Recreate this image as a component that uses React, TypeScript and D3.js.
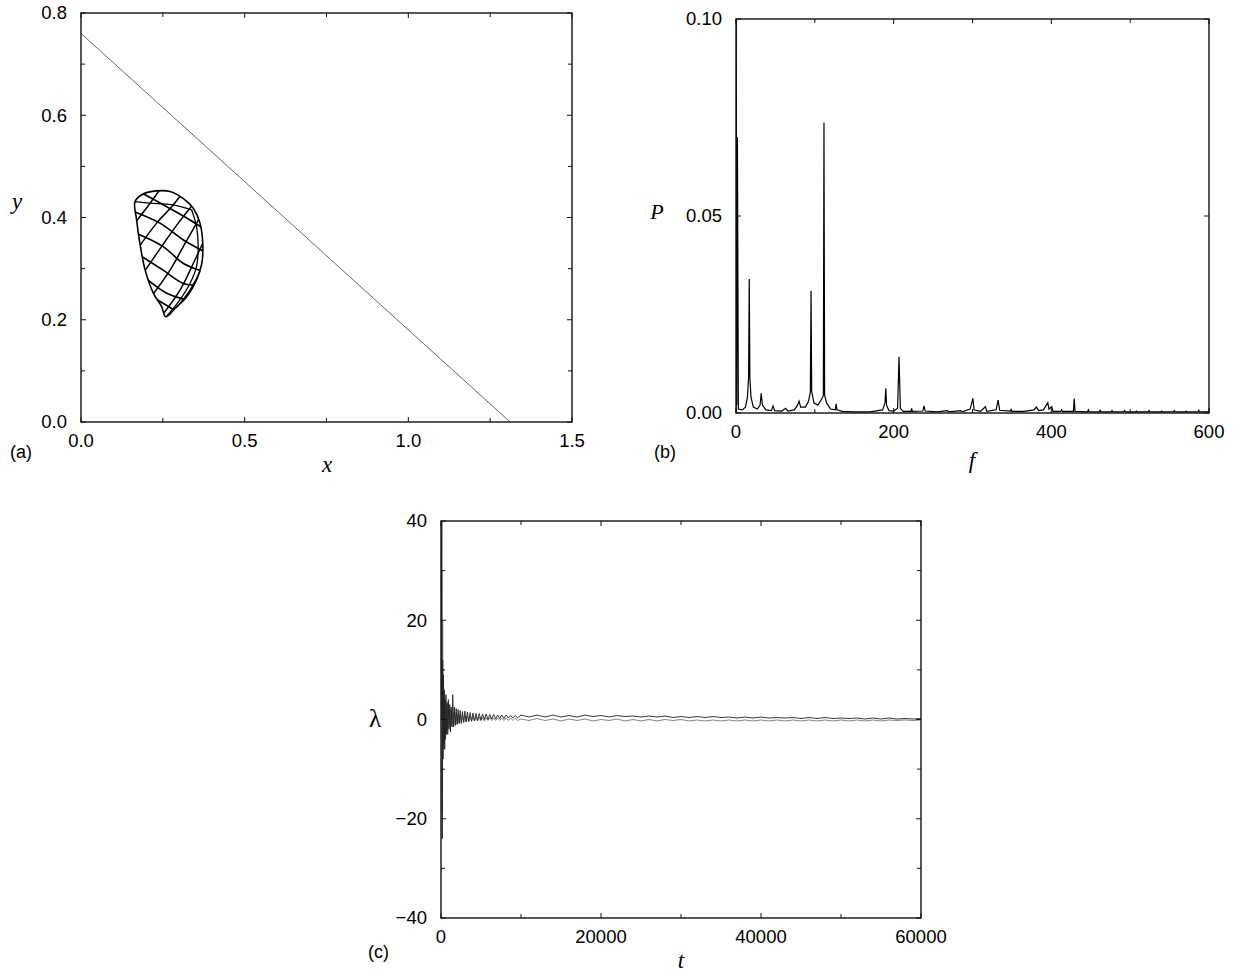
import React from 'react';
import * as d3 from 'd3';

const W = 1239;
const H = 973;

// ---------- Panel (a) data ----------
const aXTicks = [0, 0.5, 1.0, 1.5];
const aXMinor = [0.25, 0.75, 1.25];
const aYTicks = [0, 0.2, 0.4, 0.6, 0.8];
const aYMinor = [0.1, 0.3, 0.5, 0.7];
const aLine: [number, number][] = [[0, 0.76], [1.311, 0]];

const torusOutline: [number, number][] = [
  [0.165, 0.431], [0.190, 0.446], [0.231, 0.452], [0.272, 0.451], [0.313, 0.437],
  [0.343, 0.418], [0.3635, 0.389], [0.372, 0.349], [0.369, 0.310], [0.353, 0.278],
  [0.323, 0.245], [0.287, 0.222], [0.259, 0.206], [0.246, 0.226], [0.221, 0.252],
  [0.196, 0.297], [0.180, 0.349], [0.170, 0.395],
];
const torusInnerRight: [number, number][] = [
  [0.338, 0.415], [0.353, 0.382], [0.358, 0.343], [0.353, 0.304], [0.333, 0.271], [0.302, 0.239], [0.262, 0.207],
];
const torusRim: [number, number][] = [
  [0.165, 0.431], [0.211, 0.428], [0.262, 0.426], [0.3075, 0.421], [0.338, 0.415],
];
const torusGridA: [number, number][][] = [
  [[0.180, 0.450], [0.262, 0.421], [0.333, 0.395], [0.380, 0.376]],
  [[0.160, 0.412], [0.241, 0.389], [0.313, 0.356], [0.380, 0.332]],
  [[0.165, 0.370], [0.251, 0.343], [0.313, 0.310], [0.375, 0.294]],
  [[0.175, 0.328], [0.251, 0.297], [0.313, 0.271], [0.360, 0.268]],
  [[0.195, 0.283], [0.262, 0.252], [0.330, 0.238]],
  [[0.220, 0.244], [0.282, 0.220], [0.300, 0.212]],
];
const torusGridB: [number, number][][] = [
  [[0.160, 0.385], [0.211, 0.428], [0.245, 0.458]],
  [[0.170, 0.336], [0.231, 0.389], [0.277, 0.421], [0.310, 0.448]],
  [[0.186, 0.287], [0.246, 0.343], [0.297, 0.389], [0.345, 0.428]],
  [[0.211, 0.242], [0.272, 0.297], [0.318, 0.3495], [0.365, 0.402]],
  [[0.241, 0.203], [0.3025, 0.258], [0.343, 0.310], [0.378, 0.358]],
  [[0.282, 0.216], [0.333, 0.258], [0.372, 0.305]],
];

// ---------- Panel (b) data ----------
const bXTicks = [0, 200, 400, 600];
const bXMinor = [100, 300, 500];
const bYTicks = [0, 0.05, 0.1];
const spectrum: [number, number][] = [
  [0, 0.0], [0.3, 0.105], [1, 0.002], [1.8, 0.07], [3, 0.001], [8, 0.0008], [12, 0.0015],
  [14.5, 0.004], [16, 0.009], [16.8, 0.034], [17.6, 0.009], [19, 0.004], [22, 0.0015], [27, 0.001],
  [30.5, 0.002], [32, 0.005], [33.5, 0.002], [38, 0.0008], [45, 0.0006], [47, 0.0018], [49, 0.0006],
  [58, 0.0005], [63, 0.0012], [66, 0.0005], [74, 0.0008], [78, 0.002], [80, 0.003], [82, 0.0015],
  [88, 0.0015], [92, 0.003], [94.3, 0.0053], [95.2, 0.031], [96, 0.0055], [99, 0.0025], [104, 0.002],
  [108.5, 0.0035], [110.8, 0.0044], [111.6, 0.0737], [112.4, 0.0045], [115, 0.0025], [120, 0.001],
  [126, 0.0008], [127, 0.0023], [128, 0.0008], [135, 0.0004], [150, 0.0003], [170, 0.0003],
  [186, 0.0008], [189, 0.0025], [190, 0.0063], [191, 0.002], [194, 0.0006], [200, 0.0005],
  [205, 0.0012], [206.8, 0.0143], [208.5, 0.0012], [212, 0.0004], [222, 0.0004], [222.8, 0.0012],
  [223.6, 0.0004], [237, 0.0005], [238.5, 0.0018], [240, 0.0005], [255, 0.0003], [268, 0.0006],
  [270, 0.0003], [285, 0.0006], [287, 0.0003], [297, 0.001], [300.5, 0.0037], [302, 0.0008], [310, 0.0004],
  [316.5, 0.0016], [318, 0.0004], [330, 0.0008], [332.5, 0.0033], [334.5, 0.0007], [348, 0.0005],
  [349, 0.0009], [350, 0.0004], [365, 0.0004], [378, 0.0008], [381, 0.0015], [384, 0.0006],
  [390, 0.0008], [395.5, 0.0026], [397, 0.001], [400.5, 0.0016], [402, 0.0004], [412, 0.0004],
  [413, 0.0008], [414, 0.0004], [428, 0.0004], [429, 0.0037], [430, 0.0004], [446, 0.0003],
  [447, 0.0008], [448, 0.0003], [461, 0.0003], [462, 0.0007], [463, 0.0003], [476, 0.0003],
  [477, 0.0006], [478, 0.0003], [492, 0.0003], [493, 0.0006], [494, 0.0003], [507, 0.0003],
  [508, 0.0005], [509, 0.0003], [523, 0.0003], [524, 0.0006], [525, 0.0003], [539, 0.0003],
  [540, 0.0005], [541, 0.0003], [555, 0.0003], [556, 0.0006], [557, 0.0003], [570, 0.0003],
  [571, 0.0005], [572, 0.0003], [586, 0.0003], [587, 0.0007], [588, 0.0003], [600, 0.0003],
];

// ---------- Panel (c) data ----------
const cXTicks = [0, 20000, 40000, 60000];
const cXMinor = [10000, 30000, 50000];
const cYTicks = [-40, -20, 0, 20, 40];
const cYMinor = [-30, -10, 10, 30];
const lambdaTimeEarly = [
  0, 100, 160, 210, 260, 310, 360, 410, 460, 510,
  560, 620, 690, 760, 840, 920, 1000, 1090, 1180, 1270,
  1370, 1470, 1570, 1680, 1790, 1900, 2020, 2140, 2270, 2400,
  2540, 2680, 2830, 2980, 3140, 3300, 3470, 3640, 3820, 4000,
  4190, 4380, 4580, 4780, 4990, 5200, 5420, 5640, 5870, 6100,
  6340, 6580, 6830, 7080, 7340, 7600, 7870, 8140, 8420, 8700,
  8990, 9280, 9570,
];
const lambdaAEarly = [
  0, 41, -24, 12, -8, 9, -5, 6, -6, 4,
  -4, 5, -3, 3.5, -3, 4, -2, 3, -2.5, 2.5,
  -1.5, 5, -1.5, 2.5, -1.2, 2.2, -1, 2, -0.8, 1.8,
  -0.8, 1.6, -0.6, 1.7, -0.5, 1.5, -0.4, 1.4, -0.3, 1.3,
  -0.3, 1.2, -0.2, 1.2, -0.1, 1.1, 0, 1.1, 0, 1.0,
  0.1, 1.0, 0.1, 0.9, 0.2, 0.9, 0.2, 0.9, 0.3, 0.8,
  0.3, 0.8, 0.3,
];
const lambdaBEarly = [
  0, 30, -19, 20, -6, 8, -5, 5, -3, 4,
  -3, 3, -2, 3, -2, 2, -1.5, 2, -1.5, 2,
  -1.2, 1.5, -1, 1.5, -1, 1.2, -0.8, 1.1, -0.7, 1,
  -0.6, 0.9, -0.5, 0.8, -0.5, 0.7, -0.4, 0.6, -0.4, 0.6,
  -0.3, 0.5, -0.3, 0.5, -0.3, 0.4, -0.3, 0.4, -0.2, 0.4,
  -0.2, 0.3, -0.2, 0.3, -0.2, 0.3, -0.2, 0.3, -0.2, 0.3,
  -0.2, 0.3, -0.2,
];
const lambdaTimeLate = d3.range(10000, 60001, 1000);
const lambdaALate = [
  0.9, 0.5, 0.9, 0.5, 0.9, 0.5, 0.8, 0.5, 0.9, 0.6, 0.8, 0.5, 0.8, 0.6, 0.7, 0.5, 0.7, 0.5, 0.7, 0.4,
  0.6, 0.4, 0.6, 0.4, 0.6, 0.4, 0.5, 0.3, 0.5, 0.3, 0.5, 0.3, 0.4, 0.3, 0.4, 0.2, 0.4, 0.2, 0.4, 0.2,
  0.3, 0.2, 0.3, 0.1, 0.3, 0.1, 0.3, 0.1, 0.2, 0.1, 0.2,
];
const lambdaBLate = [
  0.1, -0.2, 0.2, -0.2, 0.1, -0.3, 0.1, -0.2, 0.1, -0.3, 0.0, -0.2, 0.1, -0.3, 0.0, -0.3, 0.0, -0.3, 0.0, -0.2,
  0.0, -0.3, -0.1, -0.3, -0.1, -0.3, -0.1, -0.3, -0.1, -0.3, -0.1, -0.3, -0.1, -0.3, -0.1, -0.3, -0.1, -0.3, -0.1, -0.3,
  -0.1, -0.3, -0.1, -0.3, -0.1, -0.3, -0.1, -0.2, -0.1, -0.2, -0.1,
];

const SANS = 'Liberation Sans, Arial, Helvetica, sans-serif';
const SERIF = 'Liberation Serif, Times New Roman, serif';

type Scale = d3.ScaleLinear<number, number>;

function Frame(props: {
  x: Scale; y: Scale; xTicks: number[]; xMinor: number[]; yTicks: number[]; yMinor: number[];
  xFmt: (v: number) => string; yFmt: (v: number) => string;
}) {
  const { x, y, xTicks, xMinor, yTicks, yMinor, xFmt, yFmt } = props;
  const [x0, x1] = x.range();
  const [y0, y1] = y.range();
  const maj = 5, mnr = 4;
  const stroke = '#111';
  return (
    <g>
      <rect x={x0} y={y1} width={x1 - x0} height={y0 - y1} fill="none" stroke={stroke} strokeWidth={1.4} />
      {xTicks.concat(xMinor).map((v, i) => {
        const L = i < xTicks.length ? maj : mnr;
        const px = x(v);
        return (
          <g key={'xt' + i}>
            <line x1={px} x2={px} y1={y0} y2={y0 - L} stroke={stroke} strokeWidth={1} />
            <line x1={px} x2={px} y1={y1} y2={y1 + L} stroke={stroke} strokeWidth={1} />
          </g>
        );
      })}
      {yTicks.concat(yMinor).map((v, i) => {
        const L = i < yTicks.length ? maj : mnr;
        const py = y(v);
        return (
          <g key={'yt' + i}>
            <line x1={x0} x2={x0 + L} y1={py} y2={py} stroke={stroke} strokeWidth={1} />
            <line x1={x1} x2={x1 - L} y1={py} y2={py} stroke={stroke} strokeWidth={1} />
          </g>
        );
      })}
      {xTicks.map((v, i) => (
        <text key={'xl' + i} x={x(v)} y={y0 + 24.5} textAnchor="middle" fontFamily={SANS} fontSize={18.5} fill="#000">
          {xFmt(v)}
        </text>
      ))}
      {yTicks.map((v, i) => (
        <text key={'yl' + i} x={x0 - 14} y={y(v)} dy="0.35em" textAnchor="end" fontFamily={SANS} fontSize={18.5} fill="#000">
          {yFmt(v)}
        </text>
      ))}
    </g>
  );
}

export default function App() {
  const ax = d3.scaleLinear().domain([0, 1.5]).range([81, 572]);
  const ay = d3.scaleLinear().domain([0, 0.8]).range([422, 13]);
  const bx = d3.scaleLinear().domain([0, 600]).range([736, 1209]);
  const by = d3.scaleLinear().domain([0, 0.1]).range([413, 19]);
  const cx = d3.scaleLinear().domain([0, 60000]).range([441, 921]);
  const cy = d3.scaleLinear().domain([-40, 40]).range([918, 521]);

  const aLineGen = d3.line<[number, number]>().x(d => ax(d[0])).y(d => ay(d[1]));
  const aCurve = d3.line<[number, number]>().x(d => ax(d[0])).y(d => ay(d[1])).curve(d3.curveCatmullRom.alpha(0.5));
  const aClosed = d3.line<[number, number]>().x(d => ax(d[0])).y(d => ay(d[1])).curve(d3.curveCatmullRomClosed.alpha(0.5));
  const bLine = d3.line<[number, number]>().x(d => bx(d[0])).y(d => by(d[1]));
  const cLine = d3.line<[number, number]>().x(d => cx(d[0])).y(d => cy(d[1]));

  const seriesA: [number, number][] = lambdaTimeEarly.map((t, i) => [t, lambdaAEarly[i]] as [number, number])
    .concat(lambdaTimeLate.map((t, i) => [t, lambdaALate[i]] as [number, number]));
  const seriesB: [number, number][] = lambdaTimeEarly.map((t, i) => [t, lambdaBEarly[i]] as [number, number])
    .concat(lambdaTimeLate.map((t, i) => [t, lambdaBLate[i]] as [number, number]));

  const fmt1 = d3.format('.1f');
  const fmt2 = d3.format('.2f');
  const fmtInt = (v: number) => (v < 0 ? '\u2212' + Math.abs(v) : String(v));

  return (
    <svg width={W} height={H} style={{ position: 'absolute', left: 0, top: 0, display: 'block', background: '#fff' }}>
      <defs>
        <clipPath id="clipB"><rect x={736} y={19} width={473} height={394} /></clipPath>
        <clipPath id="clipC"><rect x={441} y={521} width={480} height={397} /></clipPath>
        <clipPath id="clipTorus"><path d={aClosed(torusOutline) || ''} /></clipPath>
      </defs>
      <rect x={0} y={0} width={W} height={H} fill="#fff" />

      {/* Panel (a) */}
      <path d={aLineGen(aLine) || ''} fill="none" stroke="#555" strokeWidth={0.9} />
      <g clipPath="url(#clipTorus)">
        {torusGridA.map((g, i) => (
          <path key={'ga' + i} d={aCurve(g) || ''} fill="none" stroke="#000" strokeWidth={1.7} />
        ))}
        {torusGridB.map((g, i) => (
          <path key={'gb' + i} d={aCurve(g) || ''} fill="none" stroke="#000" strokeWidth={1.5} />
        ))}
      </g>
      <path d={aCurve(torusRim) || ''} fill="none" stroke="#000" strokeWidth={1.3} />
      <path d={aCurve(torusInnerRight) || ''} fill="none" stroke="#000" strokeWidth={1.3} />
      <path d={aClosed(torusOutline) || ''} fill="none" stroke="#000" strokeWidth={1.6} />
      <Frame x={ax} y={ay} xTicks={aXTicks} xMinor={aXMinor} yTicks={aYTicks} yMinor={aYMinor} xFmt={fmt1} yFmt={fmt1} />
      <text x={17} y={209} textAnchor="middle" fontFamily={SERIF} fontStyle="italic" fontSize={23}>y</text>
      <text x={327} y={472} textAnchor="middle" fontFamily={SERIF} fontStyle="italic" fontSize={23}>x</text>
      <text x={10} y={458} fontFamily={SANS} fontSize={18}>(a)</text>

      {/* Panel (b) */}
      <g clipPath="url(#clipB)">
        <path d={bLine(spectrum) || ''} fill="none" stroke="#000" strokeWidth={1.2} />
      </g>
      <Frame x={bx} y={by} xTicks={bXTicks} xMinor={bXMinor} yTicks={bYTicks} yMinor={[]} xFmt={v => String(v)} yFmt={fmt2} />
      <text x={657} y={219} textAnchor="middle" fontFamily={SERIF} fontStyle="italic" fontSize={22}>P</text>
      <text x={972} y={468} textAnchor="middle" fontFamily={SERIF} fontStyle="italic" fontSize={23}>f</text>
      <text x={654} y={458} fontFamily={SANS} fontSize={18}>(b)</text>

      {/* Panel (c) */}
      <g clipPath="url(#clipC)">
        <path d={cLine(seriesB) || ''} fill="none" stroke="#777" strokeWidth={0.9} />
        <path d={cLine(seriesA) || ''} fill="none" stroke="#222" strokeWidth={0.9} />
      </g>
      <Frame x={cx} y={cy} xTicks={cXTicks} xMinor={cXMinor} yTicks={cYTicks} yMinor={cYMinor} xFmt={v => String(v)} yFmt={fmtInt} />
      <text x={375} y={727} textAnchor="middle" fontFamily={SERIF} fontSize={25}>λ</text>
      <text x={681} y={968} textAnchor="middle" fontFamily={SERIF} fontStyle="italic" fontSize={23}>t</text>
      <text x={368} y={958} fontFamily={SANS} fontSize={18}>(c)</text>
    </svg>
  );
}
